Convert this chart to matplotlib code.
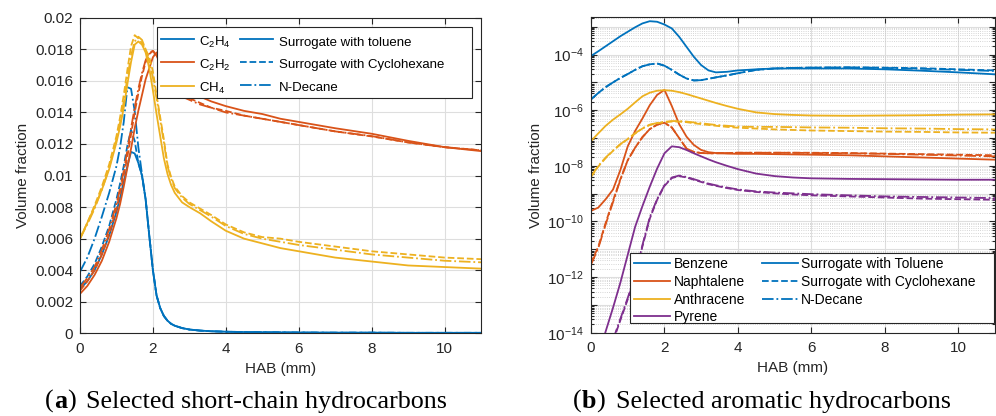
import numpy as np
import matplotlib
matplotlib.use("Agg")
import matplotlib.pyplot as plt
from matplotlib.lines import Line2D
from matplotlib.patches import Rectangle
from matplotlib.ticker import FixedLocator, FuncFormatter, LogLocator, NullFormatter

plt.rcParams["font.family"] = ["Liberation Sans", "DejaVu Sans"]
plt.rcParams["mathtext.fontset"] = "custom"
plt.rcParams["mathtext.rm"] = "Liberation Sans"
plt.rcParams["mathtext.it"] = "Liberation Sans:italic"
plt.rcParams["mathtext.bf"] = "Liberation Sans:bold"
plt.rcParams["mathtext.default"] = "regular"

# ---------------- (a) short-chain hydrocarbons, volume fraction vs HAB (mm) ----------------
hab_a = [0, 0.2, 0.4, 0.6, 0.8, 1.0, 1.1, 1.2, 1.3, 1.4, 1.5, 1.6, 1.7, 1.8, 1.9, 2.0,
         2.1, 2.2, 2.3, 2.4, 2.5, 2.6, 2.8, 3.0, 3.3, 3.6, 4.0, 4.5, 5.0, 5.5, 6.0,
         7.0, 8.0, 9.0, 10.0, 11.0]

c2h4_toluene = [0.0028, 0.0033, 0.0040, 0.0050, 0.0062, 0.0077, 0.0086, 0.0096, 0.0106, 0.0115,
                0.0114, 0.0108, 0.0100, 0.0085, 0.0062, 0.0040, 0.0024, 0.0016, 0.0011, 0.0008,
                0.0006, 0.00048, 0.00033, 0.00024, 0.00017, 0.00013, 0.0001, 0.00008, 0.00007,
                0.00006, 0.00005, 0.00004, 0.00004, 0.00003, 0.00003, 0.00003]
c2h4_cyclohexane = [0.0030, 0.0036, 0.0044, 0.0055, 0.0068, 0.0085, 0.0095, 0.0106, 0.0119, 0.0129,
                    0.0122, 0.0108, 0.0100, 0.0085, 0.0062, 0.0040, 0.0024, 0.0016, 0.0011, 0.0008,
                    0.0006, 0.00048, 0.00033, 0.00024, 0.00017, 0.00013, 0.0001, 0.00008, 0.00007,
                    0.00006, 0.00005, 0.00004, 0.00004, 0.00003, 0.00003, 0.00003]
c2h4_decane = [0.0039, 0.0048, 0.0060, 0.0074, 0.0089, 0.0106, 0.0118, 0.0134, 0.0156, 0.0155,
               0.0141, 0.0118, 0.0101, 0.0085, 0.0062, 0.0040, 0.0024, 0.0016, 0.0011, 0.0008,
               0.0006, 0.00048, 0.00033, 0.00024, 0.00017, 0.00013, 0.0001, 0.00008, 0.00007,
               0.00006, 0.00005, 0.00004, 0.00004, 0.00003, 0.00003, 0.00003]

c2h2_toluene = [0.0025, 0.0030, 0.0037, 0.0046, 0.0058, 0.0073, 0.0082, 0.0093, 0.0105, 0.0117,
                0.0130, 0.0141, 0.0151, 0.0161, 0.0168, 0.0175, 0.0178, 0.0177, 0.0174, 0.0170,
                0.0166, 0.0162, 0.0157, 0.0153, 0.0150, 0.0147, 0.0144, 0.0141, 0.0139, 0.0136,
                0.0134, 0.0130, 0.01265, 0.0122, 0.0118, 0.01155]
c2h2_cyclohexane = [0.0027, 0.0033, 0.0040, 0.0050, 0.0063, 0.0079, 0.0089, 0.0100, 0.0112, 0.0126,
                    0.0140, 0.0152, 0.0163, 0.0172, 0.0177, 0.0179, 0.0177, 0.0172, 0.0166, 0.0161,
                    0.0157, 0.0154, 0.0151, 0.0149, 0.0146, 0.0143, 0.0141, 0.0138, 0.0136, 0.0134,
                    0.0132, 0.0128, 0.01248, 0.0121, 0.0118, 0.0116]
c2h2_decane = [0.0029, 0.0035, 0.0042, 0.0053, 0.0066, 0.0082, 0.0092, 0.0103, 0.0116, 0.0130,
               0.0143, 0.0155, 0.0165, 0.0173, 0.0178, 0.0179, 0.0176, 0.0171, 0.0165, 0.0160,
               0.0156, 0.0153, 0.0150, 0.0148, 0.0145, 0.0143, 0.0140, 0.0138, 0.0136, 0.0134,
               0.0132, 0.0128, 0.0125, 0.0121, 0.0118, 0.0116]

ch4_toluene = [0.0060, 0.0070, 0.0080, 0.0091, 0.0104, 0.0121, 0.0131, 0.0143, 0.0158, 0.0172,
               0.0183, 0.0185, 0.0183, 0.0178, 0.0168, 0.0154, 0.0139, 0.0125, 0.0111, 0.0101,
               0.0094, 0.0089, 0.0083, 0.0080, 0.0076, 0.0071, 0.0065, 0.0060, 0.0057, 0.0054,
               0.0052, 0.0048, 0.00455, 0.0043, 0.0042, 0.0041]
ch4_cyclohexane = [0.0060, 0.0070, 0.0081, 0.0093, 0.0107, 0.0125, 0.0137, 0.0151, 0.0167, 0.0182,
                   0.0189, 0.0187, 0.0184, 0.0180, 0.0175, 0.0166, 0.0151, 0.0137, 0.0123, 0.0107,
                   0.0099, 0.0093, 0.0087, 0.0083, 0.0079, 0.0075, 0.0069, 0.0064, 0.0061, 0.0060,
                   0.0058, 0.0055, 0.0052, 0.0050, 0.0048, 0.0047]
ch4_decane = [0.0060, 0.0069, 0.0079, 0.0091, 0.0105, 0.0123, 0.0134, 0.0147, 0.0162, 0.0176,
              0.0185, 0.0188, 0.0186, 0.0180, 0.0172, 0.0162, 0.0149, 0.0135, 0.0121, 0.0106,
              0.0098, 0.0092, 0.0086, 0.0082, 0.0078, 0.0074, 0.0068, 0.0063, 0.0060, 0.0058,
              0.0056, 0.0053, 0.0050, 0.0048, 0.0046, 0.0045]

species_a = ["C$_2$H$_4$", "C$_2$H$_2$", "CH$_4$"]
fuels_a = ["Surrogate with toluene", "Surrogate with Cyclohexane", "N-Decane"]

# ---------------- (b) aromatic hydrocarbons, log10 of volume fraction vs HAB (mm) ----------------
hab_b = [0, 0.2, 0.4, 0.6, 0.8, 1.0, 1.2, 1.4, 1.6, 1.8, 2.0, 2.2, 2.4, 2.6, 2.8, 3.0, 3.2,
         3.4, 3.7, 4.0, 4.5, 5.0, 5.5, 6.0, 7.0, 8.0, 9.0, 10.0, 11.0]

benzene_toluene_log10 = [-4.05, -3.88, -3.70, -3.52, -3.34, -3.18, -3.02, -2.88, -2.80, -2.82,
                         -2.92, -3.06, -3.36, -3.72, -4.08, -4.38, -4.57, -4.64, -4.62, -4.57,
                         -4.53, -4.50, -4.50, -4.50, -4.50, -4.53, -4.58, -4.64, -4.71]
benzene_cyclohexane_log10 = [-5.61, -5.38, -5.17, -5.00, -4.84, -4.70, -4.55, -4.42, -4.35, -4.32,
                             -4.40, -4.55, -4.72, -4.86, -4.93, -4.92, -4.87, -4.82, -4.75, -4.67,
                             -4.55, -4.50, -4.48, -4.47, -4.46, -4.47, -4.49, -4.53, -4.57]
benzene_decane_log10 = [-5.61, -5.38, -5.17, -5.00, -4.84, -4.70, -4.55, -4.42, -4.35, -4.32,
                        -4.40, -4.55, -4.72, -4.86, -4.93, -4.92, -4.87, -4.82, -4.75, -4.67,
                        -4.55, -4.50, -4.48, -4.47, -4.46, -4.48, -4.51, -4.55, -4.59]

naphtalene_toluene_log10 = [-9.62, -9.50, -9.20, -8.85, -8.15, -7.30, -6.75, -6.30, -5.82, -5.45,
                            -5.27, -5.85, -6.50, -6.95, -7.25, -7.43, -7.51, -7.54, -7.56, -7.57,
                            -7.57, -7.58, -7.59, -7.60, -7.62, -7.66, -7.70, -7.74, -7.78]
naphtalene_cyclohexane_log10 = [-11.50, -10.90, -10.05, -9.25, -8.48, -7.80, -7.35, -6.97, -6.68, -6.52,
                                -6.45, -6.62, -7.00, -7.38, -7.50, -7.54, -7.55, -7.55, -7.54, -7.53,
                                -7.53, -7.53, -7.53, -7.53, -7.54, -7.56, -7.58, -7.60, -7.62]
naphtalene_decane_log10 = [-11.55, -10.95, -10.10, -9.30, -8.50, -7.80, -7.35, -6.97, -6.68, -6.52,
                           -6.45, -6.62, -7.00, -7.38, -7.50, -7.54, -7.55, -7.55, -7.54, -7.53,
                           -7.53, -7.53, -7.53, -7.54, -7.55, -7.57, -7.60, -7.63, -7.66]

anthracene_toluene_log10 = [-7.11, -6.83, -6.56, -6.34, -6.15, -5.95, -5.72, -5.50, -5.37, -5.30,
                            -5.28, -5.30, -5.35, -5.42, -5.50, -5.58, -5.66, -5.74, -5.85, -5.95,
                            -6.08, -6.14, -6.17, -6.19, -6.20, -6.19, -6.18, -6.16, -6.15]
anthracene_cyclohexane_log10 = [-8.40, -8.02, -7.72, -7.46, -7.23, -7.04, -6.84, -6.66, -6.53, -6.47,
                                -6.43, -6.41, -6.41, -6.43, -6.47, -6.50, -6.53, -6.56, -6.60, -6.63,
                                -6.66, -6.69, -6.71, -6.73, -6.75, -6.77, -6.78, -6.80, -6.81]
anthracene_decane_log10 = [-8.38, -8.00, -7.70, -7.45, -7.22, -7.03, -6.83, -6.65, -6.52, -6.46,
                           -6.42, -6.39, -6.39, -6.41, -6.44, -6.47, -6.50, -6.53, -6.56, -6.59,
                           -6.60, -6.60, -6.61, -6.62, -6.63, -6.65, -6.66, -6.68, -6.69]

hab_pyrene_toluene = [0.3, 0.4, 0.6, 0.8, 1.0, 1.2, 1.4, 1.6, 1.8, 2.0, 2.2, 2.4, 2.6, 2.8,
                      3.0, 3.2, 3.4, 3.7, 4.0, 4.5, 5.0, 5.5, 6.0, 7.0, 8.0, 9.0, 10.0, 11.0]
pyrene_toluene_log10 = [-14.40, -13.95, -13.10, -12.20, -11.20, -10.20, -9.45, -8.75, -8.10, -7.55,
                        -7.30, -7.33, -7.43, -7.55, -7.66, -7.77, -7.87, -8.00, -8.12, -8.28,
                        -8.37, -8.42, -8.45, -8.47, -8.48, -8.49, -8.50, -8.50]
hab_pyrene_other = [0.6, 0.8, 1.0, 1.2, 1.4, 1.6, 1.8, 2.0, 2.2, 2.4, 2.6, 2.8, 3.0, 3.2,
                    3.4, 3.7, 4.0, 4.5, 5.0, 5.5, 6.0, 7.0, 8.0, 9.0, 10.0, 11.0]
pyrene_cyclohexane_log10 = [-14.30, -13.55, -12.80, -12.00, -10.90, -9.90, -9.22, -8.72, -8.44, -8.37,
                            -8.42, -8.50, -8.58, -8.66, -8.72, -8.80, -8.87, -8.94, -8.99, -9.03,
                            -9.06, -9.10, -9.14, -9.18, -9.20, -9.22]
pyrene_decane_log10 = [-14.25, -13.50, -12.75, -11.95, -10.85, -9.85, -9.20, -8.70, -8.42, -8.35,
                       -8.40, -8.48, -8.56, -8.64, -8.70, -8.78, -8.85, -8.92, -8.96, -8.99,
                       -9.02, -9.06, -9.10, -9.12, -9.14, -9.16]

species_b = ["Benzene", "Naphtalene", "Anthracene", "Pyrene"]
fuels_b = ["Surrogate with Toluene", "Surrogate with Cyclohexane", "N-Decane"]

# ---------------- styling ----------------
BLUE, ORANGE, YELLOW, PURPLE = "#0072BD", "#D95319", "#EDB120", "#7E2F8E"
DARK = "#262626"
GRID = "#dedede"
FUEL_STYLES = ["-", "--", "-."]
LW = 1.3

W, H = 996, 416
fig = plt.figure(figsize=(W / 100, H / 100), dpi=100)
ax1 = fig.add_axes([80 / W, 1 - 333.3 / H, 401 / W, 315.5 / H])
ax2 = fig.add_axes([591 / W, 1 - 332.7 / H, 404 / W, 315.4 / H])


def style_axes(ax):
    for s in ax.spines.values():
        s.set_color(DARK)
        s.set_linewidth(0.8)
    ax.tick_params(which="both", direction="in", top=True, right=True,
                   colors=DARK, labelsize=11, width=0.8)
    ax.tick_params(which="major", length=4)
    ax.tick_params(which="minor", length=2)
    ax.tick_params(axis="x", pad=6)
    ax.tick_params(axis="y", pad=5)
    ax.grid(True, which="major", color=GRID, linewidth=0.8)
    ax.set_axisbelow(True)
    ax.set_xlim(0, 11)
    ax.set_xticks([0, 2, 4, 6, 8, 10])
    ax.set_xlabel("HAB (mm)", fontsize=11, color=DARK)
    ax.set_ylabel("Volume fraction", fontsize=11, color=DARK)
    ax.xaxis.set_label_coords(0.5, -0.09)


def legend_box(ax, x0, y0, x1, y1):
    ax.add_patch(Rectangle((x0, y0), x1 - x0, y1 - y0, transform=ax.transAxes,
                           facecolor="white", edgecolor=DARK, linewidth=0.8,
                           zorder=4, clip_on=False))


# ---- panel (a) ----
style_axes(ax1)
series_a = [
    (BLUE, [c2h4_toluene, c2h4_cyclohexane, c2h4_decane]),
    (ORANGE, [c2h2_toluene, c2h2_cyclohexane, c2h2_decane]),
    (YELLOW, [ch4_toluene, ch4_cyclohexane, ch4_decane]),
]
for color, runs in series_a:
    for ls, y in zip(FUEL_STYLES, runs):
        ax1.plot(hab_a, y, color=color, linestyle=ls, linewidth=LW, zorder=2)
ax1.set_ylim(0, 0.02)
ax1.set_yticks(np.arange(0, 0.0201, 0.002))
ax1.yaxis.set_major_formatter(FuncFormatter(lambda v, p: "%g" % round(v, 4)))
ax1.yaxis.set_label_coords(-0.125, 0.5)

handles_a = [Line2D([], [], color=c, lw=LW) for c, _ in series_a] + \
            [Line2D([], [], color=BLUE, lw=LW, ls=ls) for ls in FUEL_STYLES]
labels_a = species_a + fuels_a
legend_box(ax1, 0.191, 0.747, 0.977, 0.970)
ax1.legend(handles_a, labels_a, ncol=2, loc="upper left", bbox_to_anchor=(0.191, 0.964),
           borderaxespad=0, borderpad=0.3, frameon=False, fontsize=9.5,
           handlelength=2.5, handleheight=1.5, handletextpad=0.4,
           labelspacing=0.5, columnspacing=0.75).set_zorder(5)

# ---- panel (b) ----
style_axes(ax2)
ax2.set_yscale("log")
series_b = [
    (BLUE, hab_b, hab_b, [benzene_toluene_log10, benzene_cyclohexane_log10, benzene_decane_log10]),
    (ORANGE, hab_b, hab_b, [naphtalene_toluene_log10, naphtalene_cyclohexane_log10, naphtalene_decane_log10]),
    (YELLOW, hab_b, hab_b, [anthracene_toluene_log10, anthracene_cyclohexane_log10, anthracene_decane_log10]),
    (PURPLE, hab_pyrene_toluene, hab_pyrene_other, [pyrene_toluene_log10, pyrene_cyclohexane_log10, pyrene_decane_log10]),
]
for color, x_tol, x_other, runs in series_b:
    for i, (ls, lg) in enumerate(zip(FUEL_STYLES, runs)):
        x = x_tol if i == 0 else x_other
        ax2.plot(x, 10.0 ** np.array(lg), color=color, linestyle=ls, linewidth=LW, zorder=2)
ax2.set_ylim(1e-14, 10 ** -2.66)
ax2.yaxis.set_major_locator(FixedLocator(10.0 ** np.arange(-14, -2)))
ax2.yaxis.set_major_formatter(FuncFormatter(
    lambda v, p: (r"$10^{%d}$" % int(round(np.log10(v)))) if int(round(np.log10(v))) % 2 == 0 else ""))
ax2.yaxis.set_minor_locator(LogLocator(base=10, subs=np.arange(2, 10) * 1.0, numticks=100))
ax2.yaxis.set_minor_formatter(NullFormatter())
ax2.grid(True, which="minor", axis="y", color="#c8c8c8", linestyle=":", linewidth=0.6)
ax2.yaxis.set_label_coords(-0.119, 0.5)

handles_b = [Line2D([], [], color=c, lw=LW) for c, *_ in series_b] + \
            [Line2D([], [], color=BLUE, lw=LW, ls=ls) for ls in FUEL_STYLES]
labels_b = species_b + fuels_b
legend_box(ax2, 0.0965, 0.030, 0.998, 0.253)
ax2.legend(handles_b, labels_b, ncol=2, loc="upper left", bbox_to_anchor=(0.0965, 0.253),
           borderaxespad=0, borderpad=0.3, frameon=False, fontsize=10,
           handlelength=2.6, handletextpad=0.25, labelspacing=0.27,
           columnspacing=1.2).set_zorder(5)

# ---- sub-captions ----
SERIF = ["Liberation Serif", "DejaVu Serif"]
CAP_FS = 18.8


def caption(ax, x_px, letter, text):
    t0 = fig.text(x_px / W, 1 - 408 / H, "(", fontsize=CAP_FS, family=SERIF,
                  va="baseline", ha="left", color="black")
    t1 = ax.annotate(letter, xy=(1, 0), xycoords=t0, va="bottom", ha="left",
                     fontsize=CAP_FS, family=SERIF, fontweight="bold", annotation_clip=False)
    t2 = ax.annotate(")", xy=(1, 0), xycoords=t1, va="bottom", ha="left",
                     fontsize=CAP_FS, family=SERIF, annotation_clip=False)
    ax.annotate(text, xy=(1, 0), xycoords=t2, xytext=(11, 0), textcoords="offset pixels",
                va="bottom", ha="left", fontsize=CAP_FS, family=SERIF, annotation_clip=False)


caption(ax1, 45, "a", "Selected short-chain hydrocarbons")
caption(ax2, 573, "b", "Selected aromatic hydrocarbons")

fig.savefig("out.png", dpi=100)
